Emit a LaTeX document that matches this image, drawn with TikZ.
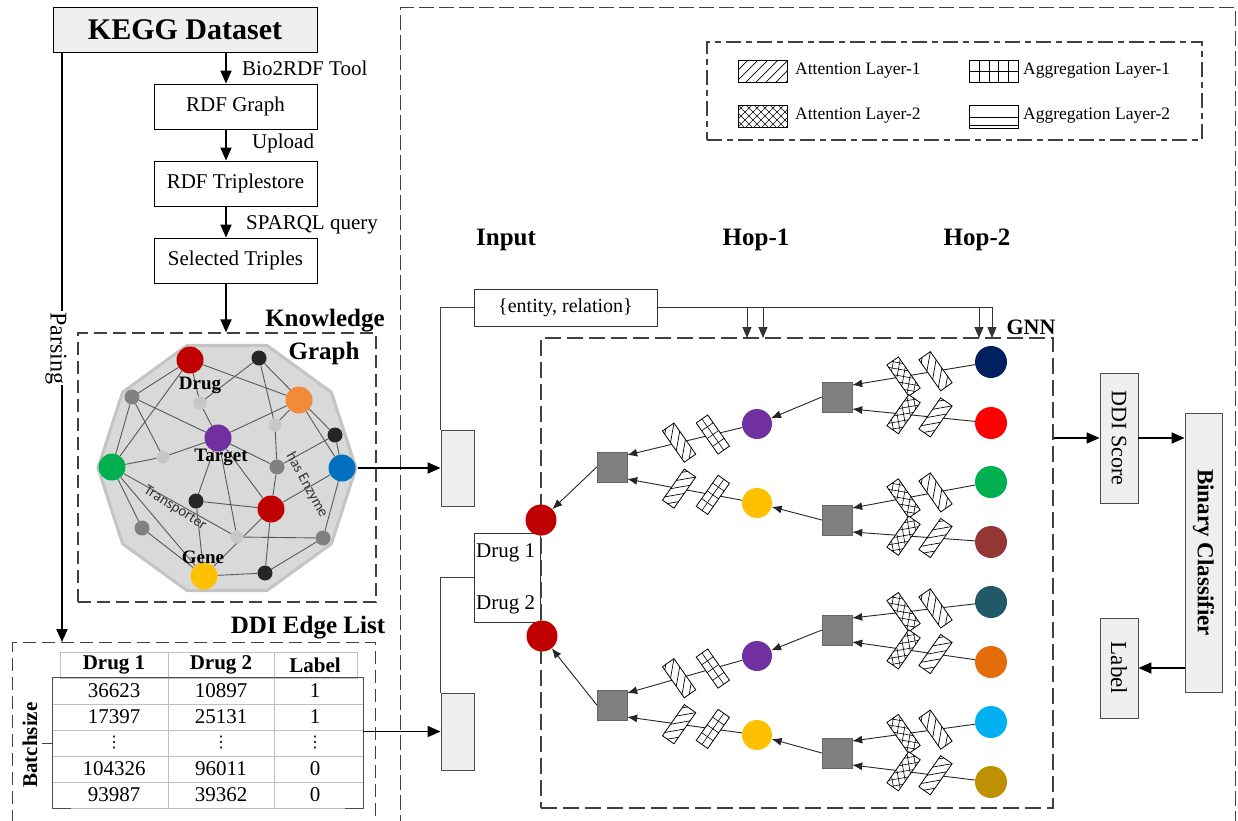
\documentclass[tikz,border=0pt]{standalone}
\usepackage{fontspec}
\usepackage{graphicx}
\setmainfont{Liberation Serif}
\newfontfamily\calfont{Carlito}
\newfontfamily\dvfont{DejaVu Sans}
\usetikzlibrary{arrows.meta,calc,shapes.geometric}
\pgfdeclarelayer{back}
\pgfdeclarelayer{mid}
\pgfsetlayers{back,mid,main}
\newcommand{\myfsz}[1]{\fontsize{#1}{#1}\selectfont}
\definecolor{drugred}{HTML}{C00000}
\definecolor{cnavy}{HTML}{002060}
\definecolor{cred}{HTML}{FF0000}
\definecolor{cgreen}{HTML}{00B050}
\definecolor{cbrown}{HTML}{943634}
\definecolor{cteal}{HTML}{215968}
\definecolor{corange}{HTML}{E46C0A}
\definecolor{ccyan}{HTML}{00B0F0}
\definecolor{cgold}{HTML}{BF9000}
\definecolor{cpurple}{HTML}{7030A0}
\definecolor{cyellow}{HTML}{FFC000}
\definecolor{korange}{HTML}{F28A3C}
\definecolor{kblue}{HTML}{0070C0}
\definecolor{boxgray}{HTML}{EFEFEF}
\definecolor{decafill}{HTML}{D9D9D9}
\definecolor{decaedge}{HTML}{C4C4C4}
\begin{document}
\begin{tikzpicture}[x=1pt,y=-1pt,
  flow/.style={line width=1.8pt, -{Triangle[length=13pt,width=11pt]}},
  conn/.style={draw=black!75, line width=1pt},
  garrow/.style={line width=0.9pt, draw=black!85, -{Latex[length=10pt,width=8pt]}},
  droparrow/.style={line width=0.9pt, draw=black!80, -{Triangle[length=11pt,width=9pt]}},
  box/.style={draw, line width=0.9pt, minimum width=163pt, minimum height=45pt, inner sep=0pt, font=\myfsz{21}},
  gbox/.style={draw=black!70, fill=boxgray, line width=0.9pt, inner sep=0pt},
  dbox/.style={draw=black!75, dash pattern=on 13pt off 6pt, line width=1.2pt, inner sep=0pt},
  dboxb/.style={draw=black!75, dash pattern=on 15pt off 5pt on 6pt off 5pt, line width=1.2pt, inner sep=0pt},
  circ/.style={circle, inner sep=0pt, minimum size=32pt},
  sq/.style={draw=black!60, fill=black!50, minimum size=30pt, inner sep=0pt},
  lbl/.style={font=\myfsz{21}, inner sep=0pt},
  btitle/.style={font=\bfseries\myfsz{25}, inner sep=0pt},
  kgbig/.style={circle, inner sep=0pt, minimum size=27pt},
  kgsm/.style={circle, inner sep=0pt, minimum size=15pt},
  kgtiny/.style={circle, inner sep=0pt, minimum size=13pt},
  kgedge/.style={draw=black!65, line width=0.9pt},
  kglab/.style={font=\bfseries\myfsz{19}, inner sep=0pt},
  tline/.style={draw=black!25, line width=0.9pt},
  tframe/.style={draw=black!70, line width=1.3pt},
  tcell/.style={font=\myfsz{21}, inner sep=0pt},
  thead/.style={font=\bfseries\myfsz{21}, inner sep=0pt},
  legtext/.style={font=\myfsz{17.5}, inner sep=0pt, anchor=west},
  pics/attone/.style={code={
    \fill[white] (-7,-19) rectangle (7,19);
    \begin{scope}
      \clip (-7,-19) rectangle (7,19);
      \foreach \k in {-32,-22,...,32} \draw[line width=0.7pt] (-7,\k+7) -- (7,\k-7);
    \end{scope}
    \draw[line width=0.8pt] (-7,-19) rectangle (7,19);
  }},
  pics/atttwo/.style={code={
    \fill[white] (-7,-19) rectangle (7,19);
    \begin{scope}
      \clip (-7,-19) rectangle (7,19);
      \foreach \k in {-36,-27,...,36} {\draw[line width=0.6pt] (-7,\k+7) -- (7,\k-7); \draw[line width=0.6pt] (-7,\k-7) -- (7,\k+7);}
    \end{scope}
    \draw[line width=0.8pt] (-7,-19) rectangle (7,19);
  }},
  pics/aggone/.style={code={
    \fill[white] (-7,-19) rectangle (7,19);
    \draw[line width=0.6pt] (0,-19) -- (0,19);
    \foreach \k in {-9.5,0,9.5} \draw[line width=0.6pt] (-7,\k) -- (7,\k);
    \draw[line width=0.8pt] (-7,-19) rectangle (7,19);
  }}
]
\useasboundingbox (0,0) rectangle (1238,820);
\begin{pgfonlayer}{back}
\fill[white] (0,0) rectangle (1238,820);
\end{pgfonlayer}

% ---------- big frame and legend ----------
\node[dbox, dash pattern=on 15pt off 5pt, minimum width=835pt, minimum height=823pt, anchor=north west] (big) at (400,7) {};
\node[dboxb, minimum width=495pt, minimum height=98pt] (leg) at (954.5,91) {};
% swatch 1: attention layer-1
\begin{scope}
  \clip (738,60) rectangle (787,82);
  \foreach \k in {716,726,...,796} \draw[line width=0.7pt] (\k,82) -- (\k+22,60);
\end{scope}
\draw[line width=0.9pt] (738,60) rectangle (787,82);
% swatch 2: attention layer-2
\begin{scope}
  \clip (738,105) rectangle (787,127);
  \foreach \k in {714,722,...,796} {\draw[line width=0.6pt] (\k,127) -- (\k+22,105); \draw[line width=0.6pt] (\k,105) -- (\k+22,127);}
\end{scope}
\draw[line width=0.9pt] (738,105) rectangle (787,127);
% swatch 3: aggregation layer-1
\draw[line width=0.7pt] (969,71) -- (1018,71);
\foreach \k in {979,989,998,1008} \draw[line width=0.7pt] (\k,60) -- (\k,82);
\draw[line width=0.9pt] (969,60) rectangle (1018,82);
% swatch 4: aggregation layer-2
\draw[line width=0.7pt] (969,117) -- (1018,117);
\draw[line width=0.7pt] (969,125) -- (1018,125);
\draw[line width=0.9pt] (969,105) rectangle (1018,128);
\node[legtext] (lt1) at (795,71) {Attention Layer-1};
\node[legtext] (lt2) at (795,116) {Attention Layer-2};
\node[legtext] (lt3) at (1023,71) {Aggregation Layer-1};
\node[legtext] (lt4) at (1023,116) {Aggregation Layer-2};

% ---------- left pipeline ----------
\coordinate (ax) at (226,0);
\coordinate (px) at (62,0);
\node[box, fill=boxgray, minimum width=264pt, minimum height=45pt, font=\bfseries\myfsz{30}] (kegg) at (185,30) {KEGG Dataset};
\node[box] (rdf) at (235.5,106.5) {RDF Graph};
\node[box] (store) at (235.5,183.5) {RDF Triplestore};
\node[box] (sel) at (235.5,260.5) {Selected Triples};
\draw[flow] (kegg.south -| ax) -- (rdf.north -| ax);
\draw[flow] (rdf.south -| ax) -- (store.north -| ax);
\draw[flow] (store.south -| ax) -- (sel.north -| ax);
\node[lbl, anchor=base west] (l1) at (242,75) {Bio2RDF Tool};
\node[lbl, anchor=base west] (l2) at (252,148) {Upload};
\node[lbl, anchor=base west] (l3) at (246,229) {SPARQL query};

% ---------- knowledge graph ----------
\node[dbox, minimum width=298pt, minimum height=269pt] (kgb) at (227,467.5) {};
\draw[flow] (sel.south -| ax) -- (kgb.north -| ax);
\node[btitle] (kgt1) at (325,321) {Knowledge};
\node[btitle] (kgt2) at (324,353) {Graph};
\begin{pgfonlayer}{back}
\node[regular polygon, regular polygon sides=10, minimum size=258pt, fill=decafill, draw=decaedge, line width=3pt] (deca) at (227,468) {};
\end{pgfonlayer}
\node[kgbig, fill=drugred] (k1) at (190,360) {};
\node[kgsm, fill=black!85] (k2) at (259,358) {};
\node[kgbig, fill=korange] (k3) at (299,400) {};
\node[kgsm, fill=black!50] (k4) at (132,397) {};
\node[kgtiny, fill=black!22] (k5) at (200,403) {};
\node[kgtiny, fill=black!22] (k6) at (275,425) {};
\node[kgsm, fill=black!85] (k7) at (335,435) {};
\node[kgbig, fill=cpurple] (k8) at (218,438) {};
\node[kgbig, fill=cgreen] (k9) at (112,467) {};
\node[kgtiny, fill=black!22] (k10) at (163,457) {};
\node[kgsm, fill=black!50] (k11) at (277,467) {};
\node[kgbig, fill=kblue] (k12) at (342,468) {};
\node[kgsm, fill=black!85] (k13) at (196,501) {};
\node[kgbig, fill=drugred] (k14) at (271,509) {};
\node[kgsm, fill=black!50] (k15) at (142,528) {};
\node[kgtiny, fill=black!22] (k16) at (237,537) {};
\node[kgsm, fill=black!50] (k17) at (323,538) {};
\node[kgbig, fill=cyellow] (k18) at (204,576) {};
\node[kgsm, fill=black!85] (k19) at (265,573) {};
\begin{pgfonlayer}{mid}
\foreach \u/\v in {k1/k3,k1/k9,k1/k5,k5/k8,k4/k1,k2/k5,k2/k6,k6/k11,k2/k7,k3/k8,k3/k6,k3/k12,k4/k8,k8/k11,k4/k9,k4/k10,k9/k10,k10/k8,k7/k12,k7/k11,k8/k14,k8/k13,k11/k14,k12/k14,k12/k17,k13/k14,k13/k18,k9/k15,k9/k18,k9/k16,k15/k18,k14/k18,k14/k19,k16/k17,k17/k19,k19/k18,k8/k16}
  \draw[kgedge] (\u) -- (\v);
\end{pgfonlayer}
\node[kglab] (kl1) at (200,385) {Drug};
\node[kglab] (kl2) at (221,457) {Target};
\node[kglab] (kl3) at (203,557) {Gene};
\node[font=\calfont\myfsz{15}, text=black!80, rotate=-32, inner sep=0pt] (kl4) at (175,508) {Transporter};
\node[font=\calfont\myfsz{15}, text=black!80, rotate=-61, inner sep=0pt] (kl5) at (307,485) {has Enzyme};

% ---------- DDI edge list ----------
\node[dbox, minimum width=363pt, minimum height=190pt, anchor=north west] (ddib) at (12,642) {};
\node[btitle] (ddit) at (308,628) {DDI Edge List};
\draw[flow] (kegg.south -| px) -- (ddib.north -| px);
\node[rotate=-90, fill=white, inner sep=1pt, font=\myfsz{24}] (parse) at (56,348) {Parsing};
% table
\draw[tline] (60,652) rectangle (357,678);
\draw[tline] (168,652) -- (168,808);
\draw[tline] (274,652) -- (274,808);
\foreach \yy in {704,730,756,782,808} \draw[tline] (53,\yy) -- (363,\yy);
\node[inner sep=0pt, minimum width=310pt, minimum height=130pt] (tbody) at (208,743) {};
\draw[tframe] (tbody.south west) ++(18,0) -- (tbody.south west) -- (tbody.north west) -- (tbody.north east) -- (tbody.south east) -- ++(-18,0);
\node[thead] (h1) at (114,665) {Drug 1};
\node[thead] (h2) at (221,665) {Drug 2};
\node[thead] (h3) at (315,665) {Label};
\foreach \yy/\a/\b/\c [count=\i] in {691/36623/10897/1, 717/17397/25131/1, 769/104326/96011/0, 795/93987/39362/0} {
  \node[tcell] (ra\i) at (114,\yy) {\a};
  \node[tcell] (rb\i) at (221,\yy) {\b};
  \node[tcell] (rc\i) at (315,\yy) {\c};
}
\node[font=\dvfont\myfsz{16}, inner sep=0pt] (va) at (114,743) {⋮};
\node[font=\dvfont\myfsz{16}, inner sep=0pt] (vb) at (221,743) {⋮};
\node[font=\dvfont\myfsz{16}, inner sep=0pt] (vc) at (315,743) {⋮};
\node[rotate=90, font=\bfseries\myfsz{21}, inner sep=0pt] (bsz) at (30,745) {Batchsize};
\draw[conn] (tbody.west) -- ++(-11,0);

% ---------- input column ----------
\node[btitle] (tin) at (506,240) {Input};
\node[btitle] (th1) at (756,240) {Hop-1};
\node[btitle] (th2) at (977,240) {Hop-2};
\node[gbox, minimum width=33pt, minimum height=76pt] (in1) at (457.5,468) {};
\node[gbox, minimum width=33pt, minimum height=77pt] (in2) at (457.5,731.5) {};
\node[draw=black!80, line width=0.9pt, minimum width=183pt, minimum height=37pt, inner sep=0pt, font=\myfsz{20}] (ent) at (565.5,307.5) {\{entity, relation\}};
\draw[flow] (deca.east) -- (in1.west);
\draw[flow] (tbody.east |- in2.west) -- (in2.west);
\draw[conn] (in1.north west) |- (ent.west);
\node[draw=black!80, line width=0.9pt, minimum width=66pt, minimum height=89pt, inner sep=0pt] (dbx) at (507,577.5) {};
\node[lbl, anchor=west] (dl1) at (476,553) {Drug 1};
\node[lbl, anchor=west] (dl2) at (476,605) {Drug 2};
\draw[conn] (dbx.west) -| (in2.north west);

% ---------- GNN ----------
\node[draw=black!75, dash pattern=on 16pt off 6pt, line width=1.2pt, inner sep=0pt, minimum width=512pt, minimum height=470pt] (gnn) at (797,573) {};
\node[font=\bfseries\myfsz{22}, inner sep=0pt] (gnnt) at (1031,327) {GNN};
\coordinate (h1a) at (747,338);
\coordinate (h1b) at (763,338);
\coordinate (h2a) at (979,338);
\coordinate (h2b) at (992,338);
\draw[droparrow] (ent.east) -| (h2b);
\draw[droparrow] (ent.east -| h1a) -- (h1a);
\draw[droparrow] (ent.east -| h1b) -- (h1b);
\draw[droparrow] (ent.east -| h2a) -- (h2a);

\node[circ, fill=cnavy] (c1) at (991,362) {};
\node[circ, fill=cred] (c2) at (991,423) {};
\node[circ, fill=cgreen] (c3) at (991,482) {};
\node[circ, fill=cbrown] (c4) at (991,542) {};
\node[circ, fill=cteal] (c5) at (991,602) {};
\node[circ, fill=corange] (c6) at (991,662) {};
\node[circ, fill=ccyan] (c7) at (991,722) {};
\node[circ, fill=cgold] (c8) at (991,782) {};
\node[sq] (s1) at (837,397) {};
\node[sq] (s2) at (837,520) {};
\node[sq] (s3) at (837,630) {};
\node[sq] (s4) at (837,753) {};
\node[circ, minimum size=30pt, fill=cpurple] (p1) at (757,424) {};
\node[circ, minimum size=30pt, fill=cyellow] (y1) at (757,503) {};
\node[circ, minimum size=30pt, fill=cpurple] (p2) at (757,656) {};
\node[circ, minimum size=30pt, fill=cyellow] (y2) at (757,735) {};
\node[sq] (q1) at (612,467) {};
\node[sq] (q2) at (612,705) {};
\node[circ, minimum size=31pt, fill=drugred] (d1) at (541,520) {};
\node[circ, minimum size=31pt, fill=drugred] (d2) at (542,636) {};

\coordinate (ta1) at ($(s1.east)+(0,-12)$);
\coordinate (ta2) at ($(s1.east)+(0,12)$);
\coordinate (ta3) at ($(s2.east)+(0,-12)$);
\coordinate (ta4) at ($(s2.east)+(0,12)$);
\coordinate (ta5) at ($(s3.east)+(0,-12)$);
\coordinate (ta6) at ($(s3.east)+(0,12)$);
\coordinate (ta7) at ($(s4.east)+(0,-12)$);
\coordinate (ta8) at ($(s4.east)+(0,12)$);
\foreach \c/\t/\r in {c1/ta1/35, c2/ta2/-35, c3/ta3/35, c4/ta4/-35, c5/ta5/35, c6/ta6/-35, c7/ta7/35, c8/ta8/-35} {
  \draw[garrow] (\c) -- (\t);
  \pic[rotate=\r] at ($(\c)!0.40!(\t)$) {attone};
  \pic[rotate=\r] at ($(\c)!0.63!(\t)$) {atttwo};
}
\draw[garrow] (s1.west) -- (p1);
\draw[garrow] (s2.west) -- (y1);
\draw[garrow] (s3.west) -- (p2);
\draw[garrow] (s4.west) -- (y2);
\coordinate (tb1) at ($(q1.east)+(0,-12)$);
\coordinate (tb2) at ($(q1.east)+(0,12)$);
\coordinate (tb3) at ($(q2.east)+(0,-12)$);
\coordinate (tb4) at ($(q2.east)+(0,12)$);
\foreach \c/\t/\r in {p1/tb1/35, y1/tb2/-35, p2/tb3/35, y2/tb4/-35} {
  \draw[garrow] (\c) -- (\t);
  \pic[rotate=\r] at ($(\c)!0.34!(\t)$) {aggone};
  \pic[rotate=\r] at ($(\c)!0.60!(\t)$) {attone};
}
\draw[garrow] (q1.west) -- (d1);
\draw[garrow] (q2.west) -- (d2);

% ---------- output ----------
\node[gbox, minimum width=38pt, minimum height=130pt, font=\myfsz{22}] (score) at (1119,438) {\rotatebox{-90}{DDI Score}};
\node[gbox, minimum width=37pt, minimum height=279pt, font=\bfseries\myfsz{23}] (bin) at (1203.5,552.5) {\rotatebox{-90}{Binary Classifier}};
\node[gbox, minimum width=38pt, minimum height=100pt, font=\myfsz{23}] (lab) at (1119,668) {\rotatebox{-90}{Label}};
\draw[flow] (gnn.east |- score.west) -- (score.west);
\draw[flow] (score.east) -- (bin.west |- score.east);
\draw[flow] (bin.west |- lab.east) -- (lab.east);
\end{tikzpicture}
\end{document}
